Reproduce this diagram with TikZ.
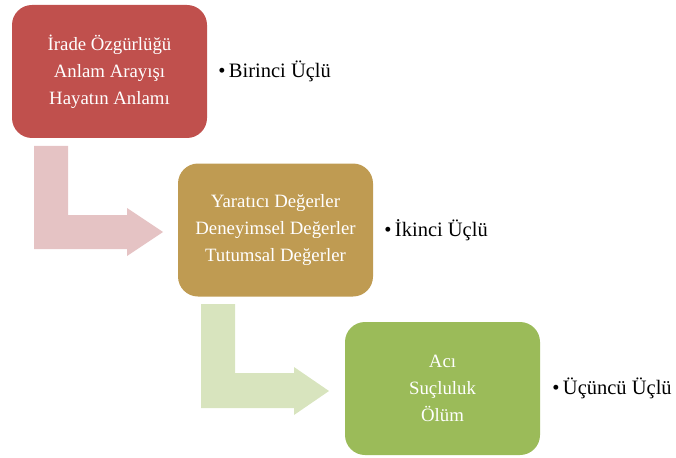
\documentclass[tikz,border=0pt]{standalone}
\usepackage{fontspec}
\setmainfont{Liberation Serif}
\usetikzlibrary{positioning}

\definecolor{boxred}{RGB}{192,80,77}
\definecolor{boxgold}{RGB}{191,155,82}
\definecolor{boxgreen}{RGB}{155,187,89}
\definecolor{arrowred}{RGB}{229,195,196}
\definecolor{arrowgreen}{RGB}{216,228,190}

\tikzset{
  itembox/.style={rounded corners=20pt, minimum width=195pt, minimum height=133pt,
    align=center, text=white, font=\fontsize{18.8}{27}\selectfont},
  itemlabel/.style={font=\fontsize{20.5}{22}\selectfont, inner sep=0pt}
}

\begin{document}
\begin{tikzpicture}[x=1pt,y=-1pt]
    \useasboundingbox (0,0) rectangle (676,457);
    % 2 bent arrows going down to the next box
    \fill[arrowred] (34,146) -- (68,146) -- (68,215) -- (127,215) -- (127,208) -- (163,232)
      -- (127,256) -- (127,249) -- (34,249) -- cycle;
    \fill[arrowgreen] (201,304) -- (235,304) -- (235,373) -- (294,373) -- (294,367) -- (329,391)
      -- (294,415) -- (294,408) -- (201,408) -- cycle;
    % 3 rounded boxes with their lines of text
    \node[itembox, fill=boxred] (birinci) at (109.5,71.5) {İrade Özgürlüğü\\Anlam Arayışı\\Hayatın Anlamı};
    \node[itembox, fill=boxgold] (ikinci) at (275.5,230) {Yaratıcı Değerler\\Deneyimsel Değerler\\Tutumsal Değerler};
    \node[itembox, fill=boxgreen] (ucuncu) at (442.5,388.5) {Acı\\Suçluluk\\Ölüm};
    \node[itemlabel, right=11pt of birinci] {•\,Birinci Üçlü};
    \node[itemlabel, right=11pt of ikinci] {•\,İkinci Üçlü};
    \node[itemlabel, right=12pt of ucuncu] {•\,Üçüncü Üçlü};
\end{tikzpicture}
\end{document}
